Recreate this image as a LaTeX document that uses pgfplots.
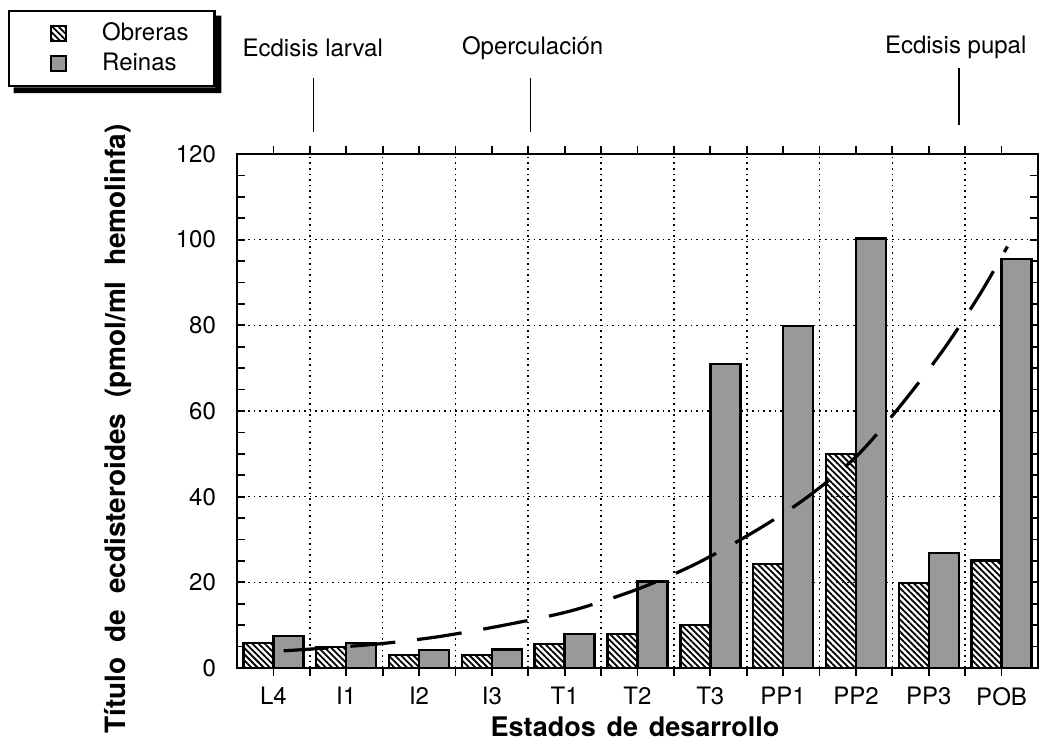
\documentclass[border=0pt]{standalone}
\usepackage{fontspec}
\setmainfont{TeX Gyre Heros}
\usepackage{pgfplots}
\usepackage{pgfplotstable}
\pgfplotsset{compat=1.18}
\usetikzlibrary{patterns.meta}

\pgfplotstableread{
x obreras reinas
0 5.9 7.5
1 4.9 5.9
2 3.1 4.2
3 3.0 4.3
4 5.6 7.9
5 7.9 20.2
6 10.1 71.0
7 24.3 79.8
8 50.0 100.3
9 19.9 26.9
10 25.1 95.5
}\datatable

\pgfplotstableread{
x y
0.14 4.0
1.0 5.0
1.6 5.9
2.3 7.4
3.2 10.1
4.1 13.4
5.0 18.4
5.8 24.3
6.6 31.8
7.3 39.5
8.0 49.3
8.6 61.0
9.2 74.3
9.7 87.2
10.08 98.4
}\curvetable

\begin{document}
\begin{tikzpicture}
\begin{axis}[
  scale only axis, width=400.5pt, height=257pt,
  xmin=-0.5, xmax=10.5, ymin=0, ymax=120,
  ybar=0pt, bar width=15pt,
  xtick={0,...,10},
  xticklabels={L4,I1,I2,I3,T1,T2,T3,PP1,PP2,PP3,POB},
  minor xtick={0.5,1.5,...,9.5},
  xminorgrids=true,
  ytick={0,20,...,120},
  minor y tick num=3,
  ymajorgrids=true,
  grid style={black, line width=0.8pt, dotted},
  minor grid style={black, line width=0.8pt, dotted},
  tick style={black, line width=0.9pt},
  major tick length=4pt, minor tick length=4pt,
  axis line style={line width=1.3pt},
  /pgf/number format/assume math mode=true,
  tick label style={font=\fontsize{12}{14}\selectfont},
  yticklabel style={xshift=-7pt},
  xticklabel style={yshift=-2pt},
  xlabel={Estados\hspace{0.4em}de\hspace{0.4em}desarrollo},
  ylabel={Título\ \ de\ \ ecdisteroides\ \ (pmol/ml\ \ hemolinfa)},
  xlabel style={font=\bfseries\fontsize{13.5}{16}\selectfont, at={(axis description cs:0.497,-0.115)}, anchor=center},
  ylabel style={font=\bfseries\fontsize{14}{16}\selectfont, at={(axis description cs:-0.1486,0.465)}, anchor=center},
  clip=false,
  legend style={name=leg, at={(0,1)}, anchor=north west, xshift=-114.5pt, yshift=72pt,
    draw=black, line width=1.2pt, fill=white,
    inner xsep=13pt, inner ysep=5.5pt, row sep=3.5pt,
    font=\fontsize{12}{14}\selectfont,
    nodes={inner sep=0pt, text depth=0.2em},
    cells={anchor=west}},
  legend image code/.code={%
    \path[draw=none, fill=none] (-8pt,-5.75pt) rectangle (25.5pt,5.75pt);
    \draw[#1, line width=0.8pt] (0pt,-3.75pt) rectangle (7.5pt,3.75pt);
  },
]
\addplot[draw=black, line width=1.2pt,
  pattern={Lines[angle=-45,distance=2.2pt,line width=0.9pt]}]
  table[x=x,y=obreras]{\datatable};
\addlegendentry{Obreras}
\addplot[draw=black, line width=1.2pt, fill=black!40]
  table[x=x,y=reinas]{\datatable};
\addlegendentry{Reinas}
\addplot[sharp plot, smooth, black, line width=1.6pt,
  dash pattern=on 22.5pt off 11pt, forget plot, mark=none]
  table[x=x,y=y]{\curvetable};
\coordinate (bl) at (rel axis cs:0,0);
\node[font=\fontsize{12}{14}\selectfont] at (axis cs:0.54,144.8) {Ecdisis larval};
\node[font=\fontsize{12}{14}\selectfont] at (axis cs:3.56,144.8) {Operculación};
\node[font=\fontsize{12}{14}\selectfont] at (axis cs:9.37,144.8) {Ecdisis pupal};
\draw[line width=0.9pt] (axis cs:0.55,137.8) -- (axis cs:0.55,125.1);
\draw[line width=0.9pt] (axis cs:3.53,137.8) -- (axis cs:3.53,125.1);
\draw[line width=0.9pt] (axis cs:9.41,140.1) -- (axis cs:9.41,126.8);
\end{axis}
\fill[black] ([xshift=2.8pt]leg.south west) -- ([xshift=2.8pt,yshift=-2.8pt]leg.south west)
  -- ([xshift=2.8pt,yshift=-2.8pt]leg.south east) -- ([xshift=2.8pt,yshift=-2.8pt]leg.north east)
  -- ([yshift=-2.8pt]leg.north east) -- (leg.south east) -- cycle;
\pgfresetboundingbox
\path (bl) ++(-118.5pt,-39pt) rectangle ++(520pt,373pt);
\end{tikzpicture}
\end{document}
